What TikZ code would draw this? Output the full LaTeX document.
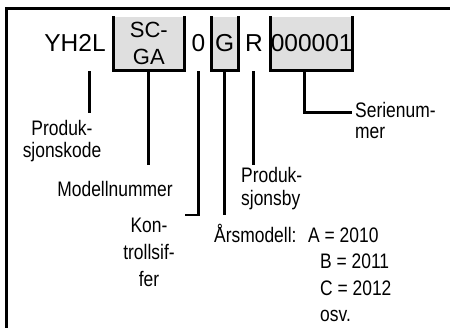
\documentclass[tikz,border=0pt]{standalone}
\usepackage{fontspec}
\setmainfont{Liberation Sans}
\newfontfamily\condfont[FakeStretch=0.83]{Liberation Sans}
\definecolor{fieldgray}{gray}{0.875}

\begin{document}
\begin{tikzpicture}[x=1pt,y=-1pt,
  code/.style={font=\fontsize{24.5}{28}\selectfont,inner sep=0pt},
  field/.style={code,fill=fieldgray,minimum height=53.3pt},
  fieldlabel/.style={font=\condfont\fontsize{21}{22}\selectfont,inner sep=0pt},
  leader/.style={line width=2.8pt}]
\useasboundingbox (0,0) rectangle (450,328);
% frame (open to the right and below)
\draw[leader] (6.5,332) |- (454,8.3);

% the type code
\node[code,anchor=base] (yh) at (75,51.7) {YH2L};
\node[field,minimum width=71pt,align=center,font=\fontsize{22}{27}\selectfont] (sc) at (148.8,43.35) {SC-\\GA};
\node[code,anchor=base] (zero) at (198.5,51.7) {0};
\node[field,minimum width=26.7pt] (g) at (224.65,43.35) {G};
\node[code,anchor=base] (r) at (254,51.7) {R};
\node[field,minimum width=81.7pt] (ser) at (311.65,43.35) {000001};
\foreach \f in {sc,g,ser}
  \draw[leader] (\f.north west) -- (\f.south west) -- (\f.south east) -- (\f.north east);

% explanations
\node[fieldlabel,align=center,anchor=north] (pkode) at (62,120) {Produk-\\sjonskode};
\node[fieldlabel,anchor=base] (mnr) at (115,197) {Modellnummer};
\node[fieldlabel,align=center,anchor=north,font=\condfont\fontsize{21}{27}\selectfont] (ksif) at (149,218) {Kon-\\trollsif-\\fer};
\node[fieldlabel,align=left,anchor=north west,font=\condfont\fontsize{21}{23}\selectfont] (pby) at (241,167) {Produk-\\sjonsby};
\node[fieldlabel,align=left,anchor=north west,font=\condfont\fontsize{21}{21}\selectfont] (snr) at (355,101.7) {Serienum-\\mer};
\node[fieldlabel,anchor=base west] (arm) at (214,243) {Årsmodell:};
\node[fieldlabel,align=left,anchor=north west,font=\condfont\fontsize{21}{26.3}\selectfont] (aar) at (308,227.8) {A = 2010\\\hspace*{12pt}B = 2011\\\hspace*{12pt}C = 2012\\\hspace*{12pt}osv.};

% leaders
\coordinate (yh-a) at (89.2,71.5);
\coordinate (yh-b) at (89.2,113.5);
\coordinate (zero-a) at (198.5,71.5);
\coordinate (zero-b) at (184.8,215);
\coordinate (r-a) at (253.5,71.5);
\coordinate (ser-a) at (304.7,70);
\coordinate (ser-b) at (352,112.5);
\draw[leader] (yh-a) -- (yh-b);
\draw[leader] (sc.south) -- ++(0,95);
\draw[leader] (zero-a) |- (zero-b);
\draw[leader] (g.south) -- ++(0,145);
\draw[leader] (r-a) -- ++(0,93.5);
\draw[leader] (ser-a) |- (ser-b);
\end{tikzpicture}
\end{document}
